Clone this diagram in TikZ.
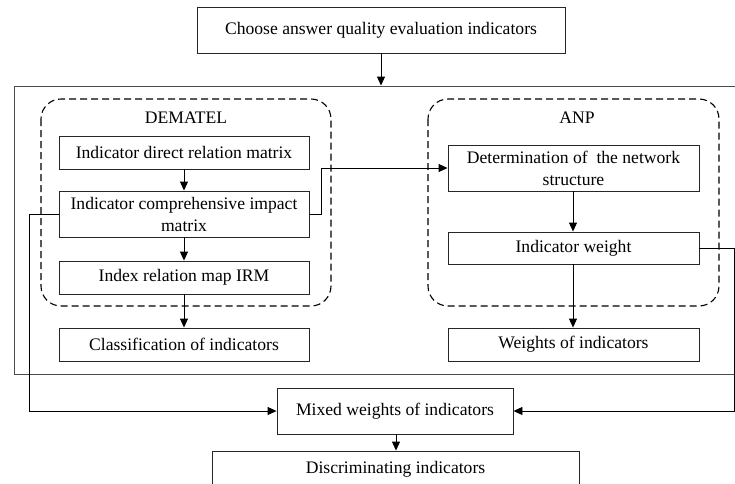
\documentclass[tikz,border=0pt]{standalone}
\usepackage{fontspec}
\setmainfont{Liberation Serif}
\usetikzlibrary{arrows.meta}
\begin{document}
\begin{tikzpicture}[x=1pt,y=-1pt,
  box/.style={draw=black!85,line width=0.9pt,inner sep=0pt,align=center,font=\fontsize{17.6}{22}\selectfont},
  grp/.style={draw=black,line width=1.1pt,dash pattern=on 7pt off 4pt,rounded corners=20pt},
  lbl/.style={inner sep=0pt,font=\fontsize{17.6}{22}\selectfont},
  conn/.style={draw=black,line width=0.9pt},
  arr/.style={conn,-{Triangle[length=9pt,width=8pt]}}]
\useasboundingbox (0,0) rectangle (735,483);
\clip (0,0) rectangle (735,483);
% outer frame
\node[draw=black!70,line width=0.9pt,minimum width=740pt,minimum height=288pt,inner sep=0pt] (outer) at (384,230) {};
% groups
\draw[grp] (41,99) rectangle (331,306);
\draw[grp] (428,99) rectangle (719,306);
\node[lbl] (dem) at (186,118) {DEMATEL};
\node[lbl] (anp) at (577,118) {ANP};
% boxes
\node[box,minimum width=368pt,minimum height=46pt] (top) at (381,30) {Choose answer quality evaluation indicators};
\node[box,minimum width=250pt,minimum height=33pt] (b1) at (184,152.5) {Indicator direct relation matrix};
\node[box,minimum width=250pt,minimum height=46pt] (b2) at (184,214) {Indicator comprehensive impact\\matrix};
\node[box,minimum width=250pt,minimum height=33pt] (b3) at (184,277.5) {Index relation map IRM};
\node[box,minimum width=250pt,minimum height=33pt] (cls) at (184,344.5) {Classification of indicators};
\node[box,minimum width=251pt,minimum height=46pt] (a1) at (573.5,168) {Determination of~ the network\\structure};
\node[box,minimum width=251pt,minimum height=32pt] (a2) at (573.5,248) {Indicator weight};
\node[box,minimum width=251pt,minimum height=33pt] (wts) at (573.5,344.5) {Weights of indicators};
\node[box,minimum width=236pt,minimum height=46pt] (mix) at (395,411) {Mixed weights of indicators};
\node[box,minimum width=367pt,minimum height=36pt] (disc) at (395.5,469) {Discriminating indicators};
% connectors
\coordinate (ta) at (381,0);
\draw[arr] (top.south -| ta) -- (outer.north -| ta);
\draw[arr] (b1) -- (b2);
\draw[arr] (b2) -- (b3);
\draw[arr] (b3) -- (cls);
\draw[arr] (b2.east) -- ++(12,0) |- (a1.west);
\draw[arr] (a1.south -| 573,0) -- (a2.north -| 573,0);
\draw[arr] (a2.south -| 573,0) -- (wts.north -| 573,0);
\draw[arr] (b2.west) -- (29,214) |- (mix.west);
\draw[arr] (a2.east) -- (734.5,248) |- (mix.east);
\draw[arr] (mix.south -| 396,0) -- (disc.north -| 396,0);
\end{tikzpicture}
\end{document}
